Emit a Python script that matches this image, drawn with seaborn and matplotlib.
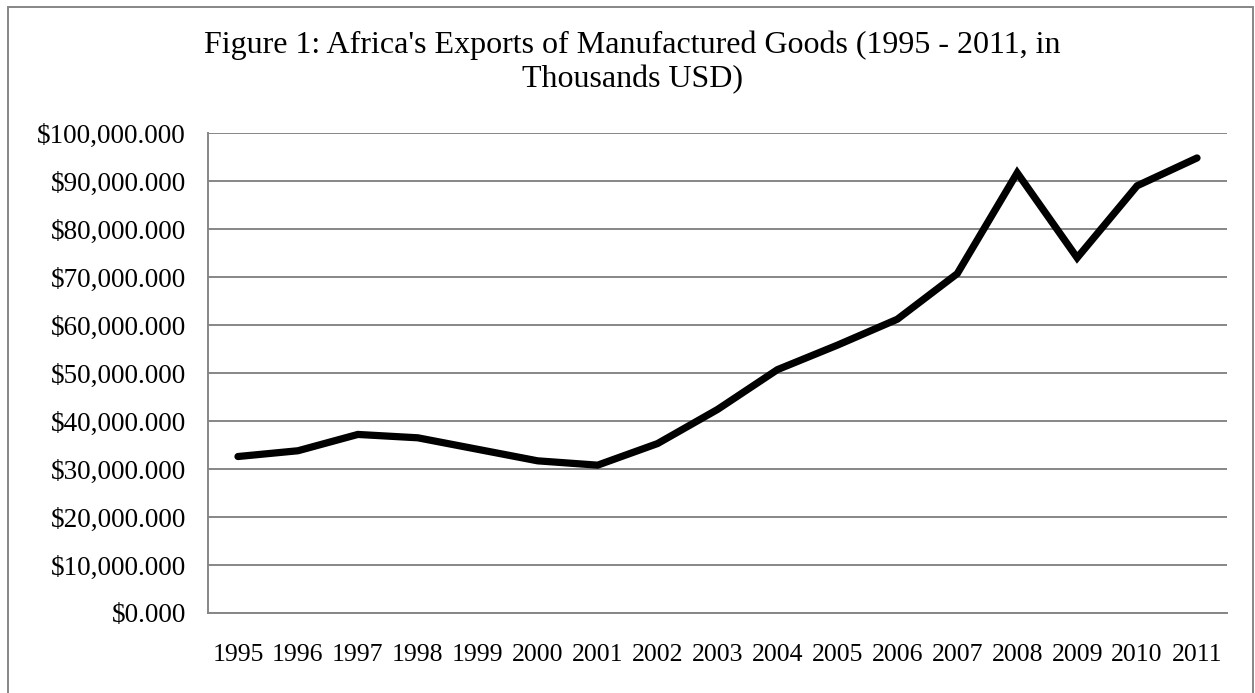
import matplotlib
matplotlib.use("Agg")
import matplotlib.pyplot as plt
import matplotlib.ticker as mticker
from matplotlib.patches import Rectangle
import seaborn as sns
import pandas as pd
import numpy as np

years = ["1995", "1996", "1997", "1998", "1999", "2000", "2001", "2002", "2003",
         "2004", "2005", "2006", "2007", "2008", "2009", "2010", "2011"]
exports = [32.6e6, 33.8e6, 37.2e6, 36.5e6, 34.1e6, 31.7e6, 30.8e6, 35.3e6, 42.4e6,
           50.7e6, 55.8e6, 61.2e6, 70.7e6, 91.7e6, 74.0e6, 89.0e6, 94.8e6]
title = "Figure 1: Africa's Exports of Manufactured Goods (1995 - 2011, in\nThousands USD)"

sns.set_theme(style="white")
plt.rcParams['font.family'] = ['Liberation Serif', 'DejaVu Serif']

df = pd.DataFrame({"year": years, "value": exports})

fig = plt.figure(figsize=(12.55, 6.93), dpi=100)
W, H = 1255, 693
left, right, top, bottom = 208, 1227, 133, 613
ax = fig.add_axes([left / W, 1 - bottom / H, (right - left) / W, (bottom - top) / H])

sns.lineplot(data=df, x="year", y="value", ax=ax, color="black", linewidth=5.2,
             sort=False)
for ln in ax.lines:
    ln.set_solid_capstyle('round')
    ln.set_solid_joinstyle('miter')

grid_c = "#868686"
ax.set_ylim(0, 100e6)
ax.set_xlim(-0.5, len(years) - 0.5)
ax.yaxis.set_major_locator(mticker.MultipleLocator(10e6))
ax.yaxis.set_major_formatter(mticker.FuncFormatter(lambda v, p: "${:,.3f}".format(v / 1000)))
ax.grid(axis='y', color=grid_c, linewidth=1.4)
ax.set_axisbelow(True)

ax.set_xticks(range(len(years)))
ax.set_xticklabels(years)
ax.set_xticks(np.arange(-0.5, len(years), 1.0), minor=True)
ax.tick_params(axis='x', which='major', length=0, pad=22, labelsize=18.5, colors='black')
ax.tick_params(axis='x', which='minor', length=7, width=1.4, color=grid_c, direction='out')
ax.tick_params(axis='y', which='major', length=8, width=1.4, color=grid_c, direction='out',
               labelsize=19.5, pad=8, colors='black')
ax.tick_params(axis='y', color=grid_c)
ax.tick_params(axis='x', which='minor', color=grid_c)
for lab in ax.get_xticklabels() + ax.get_yticklabels():
    lab.set_color('black')

for s in ['top', 'right']:
    ax.spines[s].set_visible(False)
for s in ['left', 'bottom']:
    ax.spines[s].set_color(grid_c)
    ax.spines[s].set_linewidth(1.4)

ax.set_xlabel("")
ax.set_ylabel("")

fig.text(632 / W, 1 - 31 / H, title, ha='center', va='top', fontsize=23,
         linespacing=1.22, color='black')

fig.patches.append(Rectangle((8 / W, 1 - 720 / H), (1253 - 8) / W, (720 - 7) / H,
                             transform=fig.transFigure, fill=False,
                             edgecolor=grid_c, linewidth=1.4, clip_on=False))

fig.savefig("out.png", dpi=100)
